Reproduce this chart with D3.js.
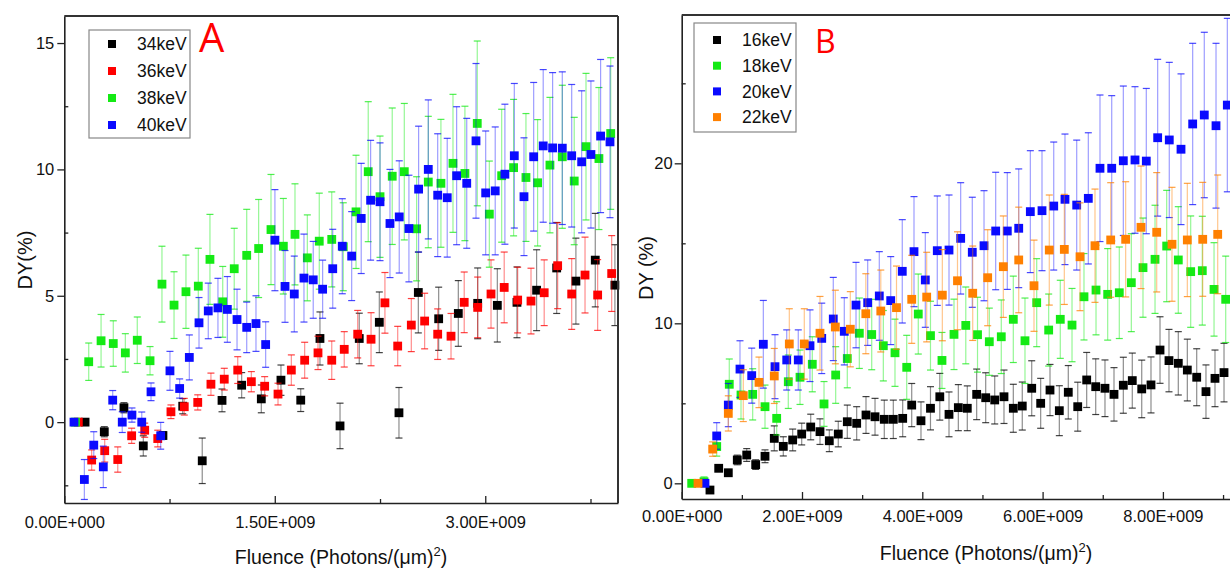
<!DOCTYPE html>
<html>
<head>
<meta charset="utf-8">
<script src="https://cdn.jsdelivr.net/npm/d3@7"></script>
<style>
  html, body { margin: 0; padding: 0; background: #fff; }
  svg { display: block; font-family: "Liberation Sans", Arial, sans-serif; }
</style>
</head>
<body>
<svg id="chart" width="1230" height="571"></svg>
<script>
// ---------------- DATA (fluence in units of 1e9 photons/(µm)^2, DY in %) ----------------
// Panel A
const seriesNamesA = ["34keV", "36keV", "38keV", "40keV"];
const fluenceA34 = [0.148,0.285,0.425,0.563,0.703,0.844,0.983,1.124,1.264,1.404,1.544,1.685,1.822,1.965,2.102,2.245,2.385,2.523,2.668,2.808,2.946,3.086,3.226,3.366,3.509,3.646,3.784,3.924];
const dyA34 = [0,-0.38,0.57,-0.94,-0.53,0.63,-1.53,0.86,1.46,0.92,1.66,0.87,3.31,-0.15,3.31,3.95,0.37,5.13,4.09,4.30,4.70,4.62,4.74,5.22,6.10,5.58,6.41,5.42];
const errA34 = [0,0.2,0.2,0.4,0.15,0.3,0.9,0.45,0.5,0.55,0.6,0.45,1.05,0.9,1.0,1.2,1.0,1.6,1.25,1.3,1.4,1.45,1.4,1.6,1.8,1.7,1.85,1.6];

const fluenceA36 = [0.100,0.195,0.288,0.381,0.480,0.573,0.666,0.760,0.855,0.951,1.045,1.140,1.236,1.333,1.428,1.523,1.618,1.713,1.808,1.906,1.995,2.091,2.186,2.285,2.376,2.473,2.568,2.661,2.756,2.850,2.946,3.041,3.135,3.231,3.326,3.420,3.516,3.616,3.711,3.801,3.901];
const dyA36 = [0,-1.50,-1.13,-1.48,-0.54,-0.32,-0.65,0.41,0.61,0.78,1.50,1.70,2.06,1.60,1.42,1.11,2.06,2.45,2.74,2.45,2.88,3.48,3.28,4.72,3.01,3.84,4.00,3.48,3.40,4.74,4.54,5.07,5.33,4.83,4.79,5.12,6.19,5.07,5.82,5.03,5.88];
const errA36 = [0,0.4,0.45,0.5,0.3,0.28,0.33,0.27,0.33,0.3,0.44,0.43,0.53,0.4,0.38,0.43,0.6,0.71,0.66,0.76,0.7,0.94,1.05,1.2,0.78,1.05,1.1,1.0,0.9,1.2,1.2,1.35,1.4,1.3,1.3,1.3,1.7,1.4,1.5,1.4,1.5];

const fluenceA38 = [0.080,0.174,0.262,0.349,0.435,0.520,0.611,0.696,0.782,0.867,0.955,1.038,1.129,1.211,1.300,1.385,1.473,1.561,1.644,1.732,1.817,1.906,1.988,2.079,2.166,2.250,2.337,2.423,2.511,2.594,2.684,2.770,2.855,2.943,3.029,3.117,3.202,3.290,3.373,3.461,3.549,3.634,3.718,3.810,3.894];
const dyA38 = [0,2.39,3.22,3.11,2.74,3.24,2.43,5.46,4.63,5.16,5.38,6.44,4.76,6.07,6.60,6.87,7.62,6.96,7.43,6.50,7.16,7.23,6.94,8.32,9.91,8.92,9.73,9.91,7.65,9.50,9.45,10.24,9.84,11.82,8.23,9.75,10.07,9.68,9.47,10.17,10.50,9.54,10.90,10.43,11.42];
const errA38 = [0,0.74,1.04,0.9,0.76,0.92,0.56,1.5,1.32,1.45,1.5,1.78,1.4,1.6,1.82,1.94,2.18,1.89,2.0,1.7,1.9,1.88,1.74,2.24,2.77,2.4,2.7,2.7,2.06,2.6,2.53,2.73,2.66,3.26,2.1,2.63,2.7,2.53,2.5,2.68,2.83,2.52,2.9,2.81,3.0];

const fluenceA40 = [0.069,0.143,0.210,0.278,0.345,0.413,0.482,0.552,0.618,0.687,0.753,0.822,0.891,0.960,1.026,1.095,1.162,1.231,1.300,1.366,1.435,1.501,1.573,1.639,1.708,1.774,1.841,1.913,1.981,2.048,2.116,2.183,2.250,2.321,2.387,2.456,2.525,2.594,2.661,2.729,2.796,2.868,2.934,3.003,3.071,3.140,3.207,3.276,3.345,3.413,3.480,3.549,3.616,3.687,3.753,3.822,3.889];
const dyA40 = [0,-2.27,-0.91,-1.77,0.87,0,0.28,0,1.20,-0.54,2.03,1.33,2.56,3.93,4.40,4.52,4.46,4.06,3.75,3.90,3.07,7.20,5.37,5.07,5.70,5.63,5.26,6.07,6.96,6.57,8.06,8.78,8.72,7.86,8.12,7.66,9.22,10.00,8.98,8.88,9.75,9.45,11.13,9.07,9.15,9.81,10.54,8.92,10.50,10.93,10.85,10.84,10.54,10.30,10.59,11.32,11.09];
const errA40 = [0,0.79,0.53,0.82,0.38,0.41,0.28,0.4,0.35,0.53,0.77,0.38,0.89,1.0,1.1,1.17,1.3,1.2,1.0,1.1,0.9,2.0,1.42,1.5,1.74,1.52,1.15,1.56,1.88,1.76,2.18,2.37,2.33,2.14,2.22,2.11,2.49,2.75,2.43,2.35,2.73,2.57,3.06,2.45,2.53,2.77,2.86,2.33,2.94,3.02,2.98,3.02,2.82,2.81,2.91,3.03,3.0];

const xTicksA = [0, 1.5, 3.0];
const xMinorA = [0.75, 2.25, 3.75];
const yTicksA = [0, 5, 10, 15];
const yMinorA = [-2.5, 2.5, 7.5, 12.5];

// Panel B
const seriesNamesB = ["16keV", "18keV", "20keV", "22keV"];
const fluenceB16 = [0.470,0.615,0.775,0.924,1.081,1.230,1.385,1.539,1.689,1.845,1.995,2.145,2.299,2.454,2.603,2.753,2.909,3.064,3.214,3.368,3.518,3.674,3.824,3.978,4.136,4.291,4.444,4.599,4.748,4.904,5.054,5.204,5.358,5.513,5.662,5.819,5.968,6.123,6.278,6.427,6.584,6.733,6.883,7.037,7.187,7.342,7.491,7.648,7.802,7.952,8.101,8.256,8.406,8.562,8.716,8.866,9.016];
const dyB16 = [-0.42,0.94,0.66,1.46,1.77,1.17,1.69,2.81,2.31,2.71,3.08,3.52,3.23,2.66,3.08,3.85,3.75,4.27,4.16,4.00,4.00,4.06,4.89,3.91,4.69,5.41,4.31,4.73,4.69,5.56,5.35,5.21,5.41,4.69,4.83,5.94,5.00,5.83,4.54,5.69,4.79,6.46,6.04,5.94,5.56,6.13,6.42,5.90,6.15,8.33,7.67,7.50,7.08,6.63,5.73,6.56,6.92];
const errB16 = [0.15,0.2,0.2,0.3,0.4,0.3,0.4,0.78,0.6,0.68,0.68,0.8,0.8,0.68,0.8,1.04,1.04,1.15,1.15,1.2,1.2,1.15,1.35,1.18,1.35,1.46,1.4,1.44,1.4,1.58,1.56,1.5,1.67,1.5,1.5,1.72,1.56,1.6,1.56,1.67,1.53,1.72,1.74,1.77,1.67,1.75,1.72,1.8,1.75,2.08,1.95,1.98,1.93,1.78,1.67,1.77,1.83];

const fluenceB18 = [0.166,0.371,0.582,0.791,0.986,1.180,1.385,1.579,1.772,1.967,2.171,2.366,2.560,2.753,2.953,3.159,3.352,3.546,3.741,3.933,4.136,4.327,4.527,4.723,4.918,5.114,5.313,5.513,5.707,5.902,6.101,6.294,6.489,6.688,6.888,7.082,7.275,7.475,7.669,7.869,8.063,8.256,8.462,8.655,8.850,9.044];
const dyB18 = [0,0.1,2.3,6.19,5.52,5.56,4.79,4.06,6.35,6.63,7.44,4.96,6.77,7.8,9.38,9.3,8.6,8.16,7.25,10.58,9.23,7.68,9.31,9.87,9.29,8.85,9.16,10.25,8.91,11.29,9.58,10.25,9.89,11.66,12.08,11.81,11.91,12.54,13.48,14.0,14.83,13.96,13.23,13.29,12.12,11.5];
const errB18 = [0,0.3,0.6,1.58,1.5,1.6,1.35,1.04,1.67,1.7,1.72,1.4,1.77,1.83,2.2,2.2,2.2,2.1,2.0,2.5,2.15,1.75,2.2,2.4,2.34,2.1,2.3,2.7,2.67,2.75,2.25,2.44,2.29,2.7,2.8,2.86,2.86,3.06,3.1,3.38,3.48,3.33,3.48,3.4,2.92,2.7];

const fluenceB20 = [0.387,0.582,0.775,0.969,1.164,1.357,1.551,1.746,1.938,2.133,2.328,2.520,2.703,2.898,3.092,3.285,3.475,3.667,3.862,4.050,4.249,4.444,4.638,4.831,5.026,5.220,5.413,5.603,5.796,5.990,6.185,6.372,6.567,6.760,6.954,7.149,7.342,7.536,7.724,7.913,8.106,8.301,8.495,8.688,8.883,9.071];
const dyB20 = [0,2.96,4.89,7.14,6.73,8.69,7.29,7.71,7.71,8.6,9.06,10.27,9.5,11.14,11.29,11.71,11.42,13.25,14.48,12.71,14.54,14.58,15.31,14.44,14.85,15.77,15.77,15.94,16.98,17.04,17.33,17.75,17.39,17.81,19.69,19.69,20.16,20.21,20.14,21.6,21.46,20.88,22.46,23.02,22.35,23.64];
const errB20 = [0,0.83,1.35,1.77,1.72,2.74,2.0,1.88,1.88,2.24,2.2,2.6,2.1,2.67,2.67,2.77,2.75,3.23,3.44,2.96,3.42,3.44,3.48,3.44,3.44,3.67,3.65,3.71,3.81,3.75,4.0,4.08,4.06,4.1,4.58,4.54,4.67,4.58,4.54,4.9,4.85,4.71,5.04,5.17,5.15,5.42];

const fluenceB22 = [0.271,0.515,0.775,1.024,1.285,1.539,1.789,2.038,2.299,2.554,2.803,3.061,3.310,3.571,3.824,4.073,4.333,4.585,4.838,5.087,5.347,5.603,5.857,6.111,6.361,6.622,6.871,7.132,7.381,7.636,7.897,8.151,8.406,8.662,8.911];
const dyB22 = [0,2.14,4.37,5.48,6.31,6.71,8.71,8.71,9.38,9.77,9.63,10.6,10.77,10.98,11.5,11.64,11.76,12.66,11.88,12.85,13.54,13.96,12.35,14.58,14.62,14.16,14.85,15.21,15.25,16.0,15.69,14.94,15.21,15.25,15.56];
const errB22 = [0,0.45,1.1,1.62,1.58,1.72,2.2,2.2,2.3,2.3,2.35,2.5,2.56,2.6,2.75,2.8,2.85,3.06,2.95,3.0,3.17,3.3,2.85,3.44,3.44,3.37,3.54,3.58,3.6,3.83,3.73,3.56,3.54,3.56,3.71];

const xTicksB = [0, 2, 4, 6, 8];
const xMinorB = [1, 3, 5, 7, 9];
const yTicksB = [0, 10, 20];
const yMinorB = [5, 15, 25];

// ---------------- DRAWING ----------------
const svg = d3.select("#chart");
const fmtE = v => {
  const x = v * 1e9;
  if (x === 0) return "0.00E+000";
  const e = Math.floor(Math.log10(x) + 1e-9);
  const m = x / Math.pow(10, e);
  return m.toFixed(2) + "E+" + String(e).padStart(3, "0");
};

function zip(f, dy, err) { return f.map((v, i) => ({ f: v, dy: dy[i], err: err[i] })); }

function drawPanel(cfg) {
  const g = svg.append("g");
  const x = d3.scaleLinear().domain(cfg.xDomain).range(cfg.xRange);
  const y = d3.scaleLinear().domain(cfg.yDomain).range(cfg.yRange);
  const [x0, x1] = cfg.xRange, [yb, yt] = cfg.yRange;

  const cap = 3.5, half = 4.4;
  cfg.series.forEach(s => {
    const pts = zip(s.f, s.dy, s.err);
    const sg = g.append("g");
    const eb = sg.selectAll("g.eb").data(pts.filter(d => d.err > 0)).join("g");
    eb.append("line")
      .attr("x1", d => x(d.f)).attr("x2", d => x(d.f))
      .attr("y1", d => y(d.dy - d.err)).attr("y2", d => y(d.dy + d.err))
      .attr("stroke", s.color).attr("stroke-opacity", s.barOp).attr("stroke-width", 1.2);
    [-1, 1].forEach(k => {
      eb.append("line")
        .attr("x1", d => x(d.f) - cap).attr("x2", d => x(d.f) + cap)
        .attr("y1", d => y(d.dy + k * d.err)).attr("y2", d => y(d.dy + k * d.err))
        .attr("stroke", s.color).attr("stroke-opacity", s.capOp).attr("stroke-width", 1.2);
    });
    sg.selectAll("rect").data(pts).join("rect")
      .attr("x", d => x(d.f) - half).attr("y", d => y(d.dy) - half)
      .attr("width", 2 * half).attr("height", 2 * half)
      .attr("fill", s.color);
  });

  const ax = g.append("g").attr("transform", `translate(0,${yb})`)
    .call(d3.axisBottom(x).tickValues(cfg.xTicks).tickFormat(fmtE)
      .tickSizeInner(-7).tickSizeOuter(0).tickPadding(cfg.xPad));
  const axm = g.append("g").attr("transform", `translate(0,${yb})`)
    .call(d3.axisBottom(x).tickValues(cfg.xMinor).tickFormat("")
      .tickSizeInner(-4).tickSizeOuter(0));
  const ay = g.append("g").attr("transform", `translate(${x0},0)`)
    .call(d3.axisLeft(y).tickValues(cfg.yTicks).tickFormat(d3.format("d"))
      .tickSizeInner(7).tickSizeOuter(0).tickPadding(cfg.yPad));
  const aym = g.append("g").attr("transform", `translate(${x0},0)`)
    .call(d3.axisLeft(y).tickValues(cfg.yMinor).tickFormat("")
      .tickSizeInner(-4).tickSizeOuter(0));
  [ax, axm, ay, aym].forEach(a => {
    a.select(".domain").attr("stroke", "#222").attr("stroke-width", 1.6);
    a.selectAll(".tick line").attr("stroke", "#222").attr("stroke-width", 1.3);
    a.selectAll(".tick text").attr("fill", "#111").style("font-size", "16.5px")
      .style("font-family", "'Liberation Sans', Arial, sans-serif");
  });
  axm.select(".domain").remove();
  aym.select(".domain").remove();

  g.append("line").attr("x1", x0).attr("x2", x1).attr("y1", yt).attr("y2", yt)
    .attr("stroke", "#333").attr("stroke-width", 2);
  if (cfg.rightFrame) {
    g.append("line").attr("x1", x1).attr("x2", x1).attr("y1", yt).attr("y2", yb)
      .attr("stroke", "#333").attr("stroke-width", 2);
  }

  const xt = g.append("text").attr("x", cfg.xTitleX).attr("y", cfg.xTitleY)
    .attr("text-anchor", "middle").attr("fill", "#111").style("font-size", "19.5px");
  xt.append("tspan").text("Fluence (Photons/(μm)");
  xt.append("tspan").attr("dy", -8).style("font-size", "13px").text("2");
  xt.append("tspan").attr("dy", 8).text(")");

  g.append("text")
    .attr("transform", `translate(${cfg.yTitleX},${cfg.yTitleY}) rotate(-90)`)
    .attr("text-anchor", "middle").attr("fill", "#111").style("font-size", "20px")
    .text(cfg.yTitle);

  const L = cfg.legend;
  g.append("rect").attr("x", L.x).attr("y", L.y).attr("width", L.w).attr("height", L.h)
    .attr("fill", "#fff").attr("stroke", "#888").attr("stroke-width", 1.2);
  cfg.series.forEach((s, i) => {
    const cy = L.y + L.first + i * L.step;
    g.append("rect").attr("x", L.mx - 4).attr("y", cy - 4).attr("width", 8).attr("height", 8)
      .attr("fill", s.color);
    g.append("text").attr("x", L.tx).attr("y", cy).attr("dy", "0.35em")
      .attr("fill", "#111").style("font-size", "17.5px").text(s.name);
  });

  g.append("text").attr("x", cfg.letter.x).attr("y", cfg.letter.y)
    .attr("fill", "#ff0000").style("font-size", cfg.letter.size + "px")
    .style("font-family", "'Open Sans', 'Noto Sans', sans-serif")
    .text(cfg.letter.t);
}

drawPanel({
  xDomain: [0, 3.946], xRange: [64.3, 618],
  yDomain: [-3.2, 16.07], yRange: [503, 16],
  xTicks: xTicksA, xMinor: xMinorA, yTicks: yTicksA, yMinor: yMinorA,
  xPad: 13, yPad: 3, rightFrame: true,
  xTitleX: 341, xTitleY: 564, yTitleX: 32, yTitleY: 260, yTitle: "DY(%)",
  legend: { x: 89, y: 30, w: 101, h: 108, first: 14, step: 27, mx: 112, tx: 137 },
  letter: { x: 199, y: 52, size: 40, t: "A" },
  series: [
    { name: seriesNamesA[0], color: "#000000", f: fluenceA34, dy: dyA34, err: errA34, barOp: 0.45, capOp: 0.75 },
    { name: seriesNamesA[1], color: "#ff0000", f: fluenceA36, dy: dyA36, err: errA36, barOp: 0.45, capOp: 0.75 },
    { name: seriesNamesA[2], color: "#14ea14", f: fluenceA38, dy: dyA38, err: errA38, barOp: 0.45, capOp: 0.75 },
    { name: seriesNamesA[3], color: "#0a0aff", f: fluenceA40, dy: dyA40, err: errA40, barOp: 0.4, capOp: 0.75 }
  ]
});

drawPanel({
  xDomain: [0, 10.113], xRange: [681.7, 1290],
  yDomain: [-0.98, 29.27], yRange: [499, 15],
  xTicks: xTicksB, xMinor: xMinorB, yTicks: yTicksB, yMinor: yMinorB,
  xPad: 11, yPad: 2, rightFrame: false,
  xTitleX: 986, xTitleY: 560, yTitleX: 653, yTitleY: 268, yTitle: "DY (%)",
  legend: { x: 694, y: 23, w: 102, h: 109, first: 17, step: 25.7, mx: 717, tx: 742 },
  letter: { x: 815, y: 53, size: 32, t: "B" },
  series: [
    { name: seriesNamesB[0], color: "#000000", f: fluenceB16, dy: dyB16, err: errB16, barOp: 0.45, capOp: 0.75 },
    { name: seriesNamesB[1], color: "#14ea14", f: fluenceB18, dy: dyB18, err: errB18, barOp: 0.45, capOp: 0.75 },
    { name: seriesNamesB[2], color: "#0a0aff", f: fluenceB20, dy: dyB20, err: errB20, barOp: 0.4, capOp: 0.75 },
    { name: seriesNamesB[3], color: "#ff8000", f: fluenceB22, dy: dyB22, err: errB22, barOp: 0.45, capOp: 0.75 }
  ]
});
</script>
</body>
</html>
